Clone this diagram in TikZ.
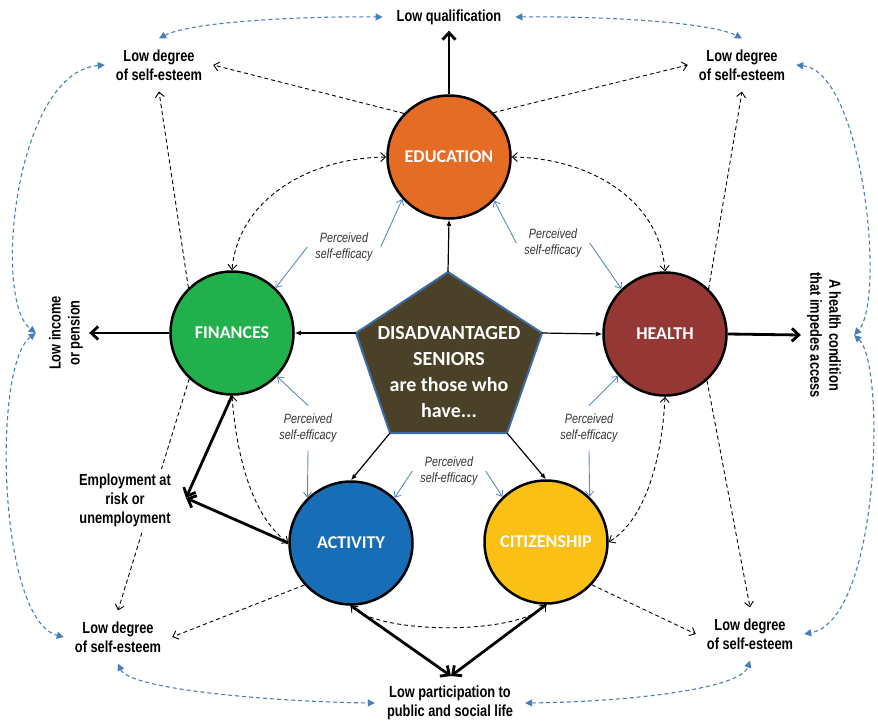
\documentclass[tikz,border=0pt]{standalone}
\usepackage{fontspec}
\setmainfont{Liberation Sans}
\newfontfamily\narrowfont[FakeStretch=0.8]{Liberation Sans}
\newfontfamily\calibfont{Carlito}
\usetikzlibrary{arrows.meta}
\definecolor{cEdu}{HTML}{E46C24}
\definecolor{cFin}{HTML}{22B04C}
\definecolor{cHea}{HTML}{953735}
\definecolor{cAct}{HTML}{176DB6}
\definecolor{cCit}{HTML}{FBC014}
\definecolor{cPent}{HTML}{4A4128}
\definecolor{cPentB}{HTML}{3D6BA6}
\definecolor{cBlueD}{HTML}{4A7EBB}
\definecolor{cBlueL}{HTML}{5A8AC6}
\begin{document}
\begin{tikzpicture}[x=1pt,y=-1pt,
  circ/.style={circle, draw=black, line width=2.5pt, minimum size=123pt, inner sep=0pt, text=white,
    font={\calibfont\bfseries\fontsize{18}{20}\selectfont}},
  lbl/.style={font={\narrowfont\bfseries\fontsize{16}{19}\selectfont}, align=center},
  ld/.style={lbl, inner sep=11pt},
  pse/.style={font={\narrowfont\itshape\fontsize{13.5}{16}\selectfont}, text=black!80, align=center, inner sep=8pt},
  penttext/.style={font={\calibfont\bfseries\fontsize{20}{26}\selectfont}, text=white, align=center},
  pentshape/.style={fill=cPent, draw=cPentB, line width=2pt, line join=miter},
  bigarrow/.style={line width=2.8pt, -{Straight Barb[length=7pt,width=13pt]}},
  thinarrow/.style={line width=1.2pt, -{Latex[length=6pt,width=5pt]}},
  dasharrow/.style={line width=0.9pt, dash pattern=on 4pt off 3pt, -{Straight Barb[length=5pt,width=9pt]}},
  dashboth/.style={line width=0.9pt, dash pattern=on 4pt off 3pt, {Straight Barb[length=5pt,width=9pt]}-{Straight Barb[length=5pt,width=9pt]}},
  bluedash/.style={draw=cBlueD, line width=1.1pt, dash pattern=on 4pt off 3pt, {Triangle[length=7pt,width=7pt]}-{Triangle[length=7pt,width=7pt]}},
  bluearrow/.style={draw=cBlueL, line width=0.9pt, -{Straight Barb[length=5pt,width=8pt]}}
]
\useasboundingbox (0,0) rectangle (878,721);

% circles
\node[circ, fill=cEdu] (edu) at (449,157) {EDUCATION};
\node[circ, fill=cFin] (fin) at (232,333) {FINANCES};
\node[circ, fill=cHea] (hea) at (665,334) {HEALTH};
\node[circ, fill=cAct] (act) at (351,543) {ACTIVITY};
\node[circ, fill=cCit] (cit) at (546,542) {CITIZENSHIP};

% pentagon
\coordinate (pt) at (448,272);
\coordinate (pr) at (542,333);
\coordinate (pbr) at (507,433);
\coordinate (pbl) at (390,433);
\coordinate (pl) at (356,333);
\draw[pentshape] (pt) -- (pr) -- (pbr) -- (pbl) -- (pl) -- cycle;
\node[penttext] (ptxt) at (449,372) {DISADVANTAGED\\SENIORS\\are those who\\have...};

% outer labels
\node[lbl, inner xsep=14pt, inner ysep=6pt] (lq) at (449,17) {Low qualification};
\node[ld] (ldtl) at (159,65) {Low degree\\of self-esteem};
\node[ld] (ldtr) at (742,65) {Low degree\\of self-esteem};
\node[ld] (ldbl) at (118,637) {Low degree\\of self-esteem};
\node[ld] (ldbr) at (750,634) {Low degree\\of self-esteem};
\node[lbl, rotate=90, inner sep=6pt] (inc) at (66,333) {Low income\\or pension};
\node[lbl, rotate=-90, inner sep=6pt] (hc) at (824,335) {A health condition\\that impedes access};
\node[lbl, inner xsep=12pt, inner ysep=3pt] (lp) at (450,703) {Low participation to\\public and social life};

% perceived self-efficacy
\node[pse] (pse1) at (344,247) {Perceived\\self-efficacy};
\node[pse] (pse2) at (553,243) {Perceived\\self-efficacy};
\node[pse] (pse3) at (308,428) {Perceived\\self-efficacy};
\node[pse] (pse4) at (589,428) {Perceived\\self-efficacy};
\node[pse] (pse5) at (449,471) {Perceived\\self-efficacy};

% dashed line hidden behind employment label
\draw[dasharrow] (fin.227) -- (ldbl.north);
\node[lbl, fill=white, inner sep=5pt] (emp) at (125,500) {Employment at\\risk or\\unemployment};
\coordinate (empT) at (186,498);
\coordinate (lpT) at (451,676);

% blue dashed outer ring
\draw[bluedash] (ldtl.north) .. controls (190,22) and (300,16) .. (lq.west);
\draw[bluedash] (lq.east) .. controls (600,16) and (710,22) .. (ldtr.north);
\draw[bluedash] (ldtl.west) .. controls (15,72) and (-8,300) .. ([xshift=-7pt]inc.north);
\draw[bluedash] ([xshift=-7pt]inc.north) .. controls (-8,365) and (-2,620) .. (ldbl.west);
\draw[bluedash] (ldtr.east) .. controls (863,72) and (886,300) .. ([xshift=7pt]hc.north);
\draw[bluedash] ([xshift=7pt]hc.north) .. controls (886,365) and (880,620) .. (ldbr.east);
\draw[bluedash] (ldbl.south) .. controls (130,690) and (280,702) .. (lp.west);
\draw[bluedash] (lp.east) .. controls (620,702) and (740,690) .. (ldbr.south);

% thin black arrows from pentagon
\draw[thinarrow] (pt) -- (edu.south);
\draw[thinarrow] (pl) -- (fin.east);
\draw[thinarrow] (pr) -- (hea.west);
\draw[thinarrow] (pbl) -- (act.north);
\draw[thinarrow] (pbr) -- (cit.north);

% thick outcome arrows
\draw[bigarrow] (edu.north) -- (lq.south);
\draw[bigarrow] (fin.west) -- (inc.south);
\draw[bigarrow] (hea.east) -- (hc.south);
\draw[bigarrow] (fin.south) -- (empT);
\draw[bigarrow] (act.west) -- (empT);
\draw[bigarrow] (act.south) -- (lpT);
\draw[bigarrow] (cit.south) -- (lpT);

% dashed arcs between circles
\draw[dashboth] (edu.west) .. controls (308,158) and (238,200) .. (fin.north);
\draw[dashboth] (edu.east) .. controls (590,158) and (660,200) .. (hea.north);
\draw[dashboth] (hea.south) .. controls (662,460) and (645,520) .. (cit.east);
\draw[dashboth] (fin.south) .. controls (236,450) and (250,515) .. (act.west);
\draw[dashboth] (act.south) .. controls (380,635) and (518,635) .. (cit.south);

% dashed arrows to self-esteem
\draw[dasharrow] (edu.136) -- (ldtl.east);
\draw[dasharrow] (edu.45) -- (ldtr.west);
\draw[dasharrow] (fin.134) -- (ldtl.south);
\draw[dasharrow] (hea.46) -- (ldtr.south);
\draw[dasharrow] (hea.-48) -- (ldbr.north);
\draw[dasharrow] (act.222) -- (ldbl.east);
\draw[dasharrow] (cit.-43) -- (ldbr.west);

% perceived self-efficacy arrows
\draw[bluearrow] (pse1.east) -- (edu.222);
\draw[bluearrow] (pse1.west) -- (fin.46);
\draw[bluearrow] (pse2.west) -- (edu.-44);
\draw[bluearrow] (pse2.east) -- (hea.134);
\draw[bluearrow] (pse3.north) -- (fin.-44);
\draw[bluearrow] (pse3.south) -- (act.134);
\draw[bluearrow] (pse4.north) -- (hea.222);
\draw[bluearrow] (pse4.south) -- (cit.46);
\draw[bluearrow] (pse5.west) -- (act.46);
\draw[bluearrow] (pse5.east) -- (cit.134);
\end{tikzpicture}
\end{document}
